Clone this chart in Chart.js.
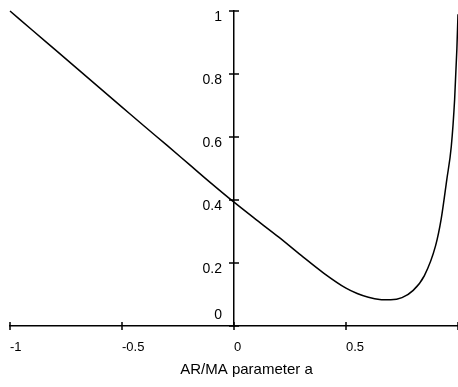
<!DOCTYPE html>
<html>
<head>
<meta charset="utf-8">
<script src="https://cdn.jsdelivr.net/npm/chart.js@4/dist/chart.umd.min.js"></script>
<style>
  html, body { margin: 0; padding: 0; background: #fff; }
  #wrap { width: 458px; height: 387px; position: relative; }
</style>
</head>
<body>
<div id="wrap"><canvas id="curve"></canvas></div>
<script>
// parameter a (x) and the plotted value (y)
const aValues = [-1, -0.9, -0.8, -0.7, -0.6, -0.5, -0.4, -0.3, -0.2, -0.1, 0,
                 0.1, 0.2, 0.3, 0.4, 0.5, 0.55, 0.6, 0.65, 0.7, 0.75, 0.8,
                 0.85, 0.9, 0.925, 0.95, 0.97, 0.985, 0.995, 1];
const curveValues = [1.0, 0.939, 0.878, 0.817, 0.756, 0.695, 0.634, 0.574, 0.513, 0.452, 0.393,
                     0.337, 0.282, 0.224, 0.168, 0.120, 0.103, 0.091, 0.084, 0.083, 0.090, 0.113,
                     0.160, 0.255, 0.340, 0.465, 0.57, 0.72, 0.88, 0.99];
const xTicks = [-1, -0.5, 0, 0.5, 1];
const yTicks = [0, 0.2, 0.4, 0.6, 0.8, 1];

const points = aValues.map((a, i) => ({x: a, y: curveValues[i]}));

// small tick marks that cross the axis lines
const crossTicks = {
    id: 'crossTicks',
    afterDraw(chart) {
        const {ctx, scales: {x, y}} = chart;
        const x0 = x.getPixelForValue(0);
        const y0 = y.getPixelForValue(0);
        ctx.save();
        ctx.strokeStyle = '#000';
        ctx.lineWidth = 1.5;
        ctx.beginPath();
        xTicks.forEach(v => {
            const px = x.getPixelForValue(v);
            ctx.moveTo(px, y0 - 4);
            ctx.lineTo(px, y0 + 4);
        });
        yTicks.forEach(v => {
            const py = y.getPixelForValue(v);
            ctx.moveTo(x0 - 5, py);
            ctx.lineTo(x0 + 5, py);
        });
        ctx.stroke();
        ctx.restore();
    }
};

// keep the label overhang from shrinking the plot area
const noPad = (s) => { s.paddingLeft = 0; s.paddingRight = 0; s.paddingTop = 0; s.paddingBottom = 0; };

const ctx = document.getElementById('curve').getContext('2d');

new Chart(ctx, {
    type: 'line',
    data: {
        datasets: [{
            data: points,
            borderColor: '#000',
            borderWidth: 1.5,
            pointRadius: 0,
            fill: false,
            cubicInterpolationMode: 'monotone',
            clip: false
        }]
    },
    options: {
        responsive: true,
        maintainAspectRatio: false,
        animation: false,
        layout: {
            padding: {left: 10, right: 0, top: 11, bottom: 61}
        },
        plugins: {
            legend: {display: false},
            tooltip: {enabled: false}
        },
        scales: {
            x: {
                type: 'linear',
                position: {y: 0},
                min: -1,
                max: 1,
                afterBuildTicks: (s) => { s.ticks = xTicks.map(v => ({value: v})); },
                afterFit: noPad,
                grid: {display: false, drawTicks: false},
                border: {display: true, color: '#000', width: 1.5},
                ticks: {
                    align: 'start',
                    padding: 14,
                    color: '#000',
                    font: {family: 'Liberation Sans', size: 13},
                    callback: (v) => v === 1 ? '' : String(v)
                },
                title: {
                    display: true,
                    text: '      AR/MA parameter a',
                    color: '#000',
                    font: {family: 'Liberation Sans', size: 15},
                    padding: {top: -9, bottom: 0}
                }
            },
            y: {
                type: 'linear',
                position: 'center',
                min: 0,
                max: 1,
                afterBuildTicks: (s) => { s.ticks = yTicks.map(v => ({value: v})); },
                afterFit: noPad,
                grid: {display: false, drawTicks: false},
                border: {display: true, color: '#000', width: 1.5},
                ticks: {
                    padding: 12,
                    labelOffset: 6,
                    color: '#000',
                    font: {family: 'Liberation Sans', size: 14},
                    callback: (v) => v === 0 ? ['0', '', ''] : String(v)
                }
            }
        }
    },
    plugins: [crossTicks]
});
</script>
</body>
</html>
